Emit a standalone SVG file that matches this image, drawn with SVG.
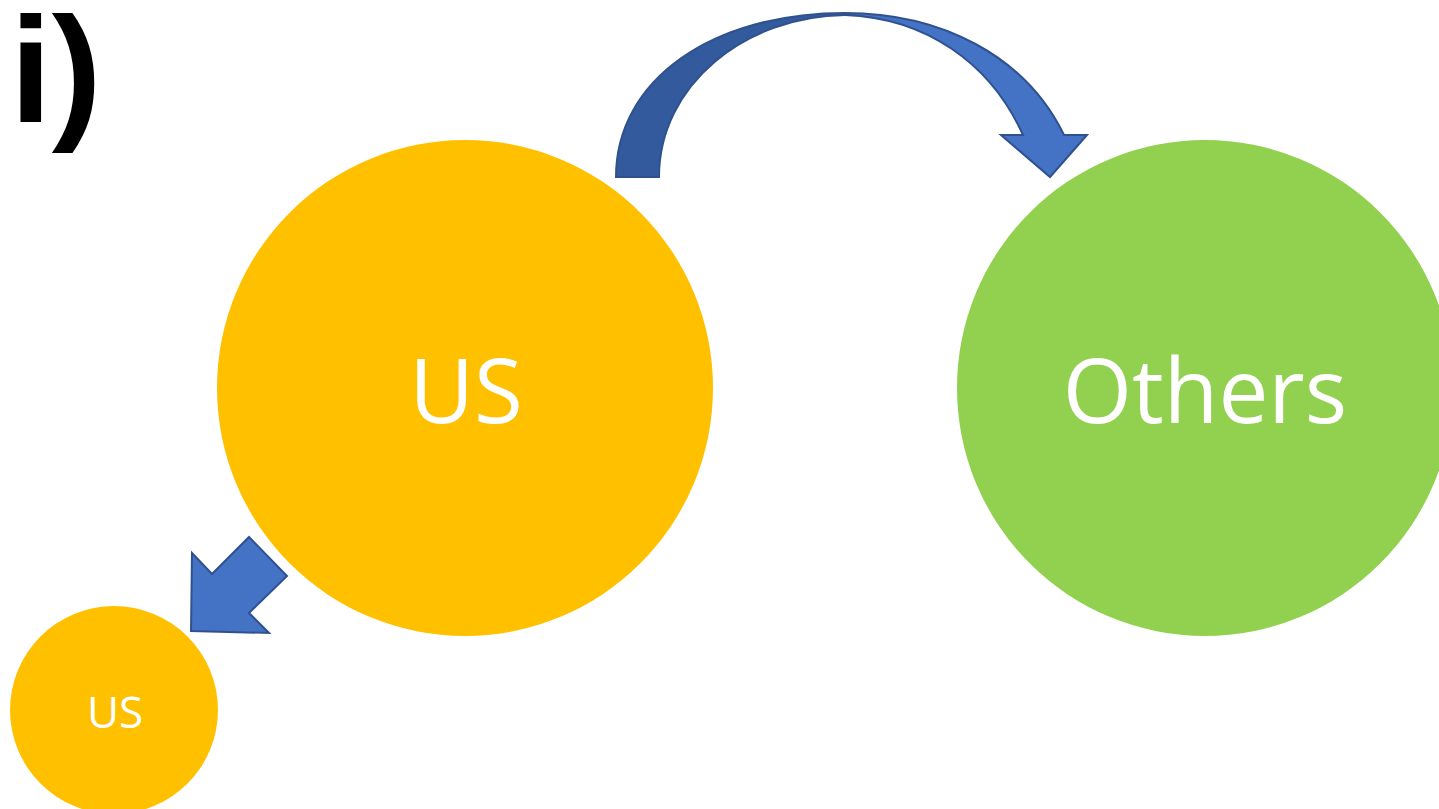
<svg xmlns="http://www.w3.org/2000/svg" width="1439" height="809" viewBox="0 0 1439 809">
<style>
.lbl{fill:#fff;font-family:"Open Sans","Liberation Sans",sans-serif;text-anchor:middle}
.arr{stroke:#2F528F;stroke-width:2;stroke-linejoin:miter}
</style>
<rect width="1439" height="809" fill="#fff"/>
<text x="10" y="122" font-family="Liberation Sans, sans-serif" font-weight="bold" font-size="150" fill="#000">i)</text>
<g id="us-main">
<circle cx="465" cy="388" r="248" fill="#FFC000"/>
<text class="lbl" x="466" y="423" font-size="89">US</text>
</g>
<g id="others">
<circle cx="1205" cy="388" r="248" fill="#92D050"/>
<text class="lbl" x="1205" y="423" font-size="89">Others</text>
</g>
<g id="us-small">
<circle cx="114" cy="710" r="104" fill="#FFC000"/>
<text class="lbl" x="115" y="728" font-size="44">US</text>
</g>
<g id="connectors">
<path class="arr" fill="#4472C4" d="M845,13 C940,13 1025,55 1064,135 L1087,135 L1050,177 L1001,135 L1023,135 C990,62 925,18 845,15 Z"/>
<path class="arr" fill="#335A9C" d="M616,177 L659,177 C659,85 745,16 845,15 L845,13 C712,13 616,80 616,177 Z"/>
<polygon class="arr" fill="#4472C4" points="191,631 192,553 212,574 249,537 287,576 249,613 269,633"/>
</g>
</svg>
